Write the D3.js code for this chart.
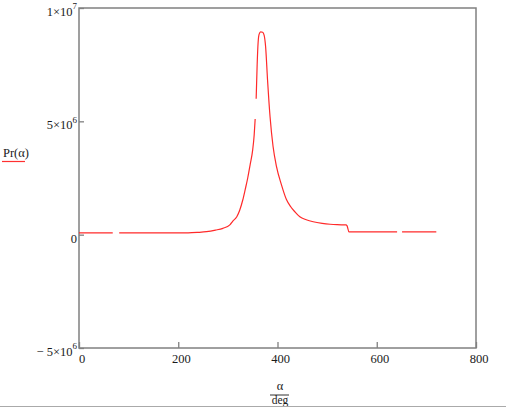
<!DOCTYPE html>
<html>
<head>
<meta charset="utf-8">
<script src="https://cdn.jsdelivr.net/npm/d3@7"></script>
<style>
  html, body { margin: 0; padding: 0; background: #fff; }
  svg { display: block; }
  text { font-family: "Liberation Serif", "DejaVu Serif", serif; fill: #1a1a1a; }
</style>
</head>
<body>
<svg id="chart" width="506" height="408"></svg>
<script>
// ---- data ----
const alphaDeg = [0, 68, 81, 220, 240, 257, 275, 290, 304, 310, 318, 324, 330, 335, 340, 345, 350, 353, 355, 357, 359, 361, 363, 366, 370, 373, 376, 380, 385, 391, 398, 408, 418, 427, 435, 445, 458, 472, 490, 506, 520, 538, 540, 544, 641, 651, 720];
const prMillions = [0.08, 0.08, 0.08, 0.08, 0.1, 0.13, 0.2, 0.28, 0.43, 0.6, 0.79, 1.09, 1.53, 2.0, 2.5, 3.1, 3.74, 4.4, 5.1, 6.0, 7.5, 8.5, 8.85, 8.95, 8.93, 8.8, 8.3, 6.8, 5.2, 3.9, 3.0, 2.2, 1.55, 1.22, 1.01, 0.79, 0.66, 0.57, 0.5, 0.46, 0.44, 0.43, 0.4, 0.12, 0.12, 0.12, 0.12];
// breaks in the drawn trace (between these consecutive alpha points)
const traceGaps = [[68, 81], [355, 357], [641, 651]];
const xTicks = [0, 200, 400, 600, 800];
const yTicks = [-5e6, 0, 5e6, 1e7];
const yTickLabels = [["\u2212 5\u00d710", "6"], ["0", ""], ["5\u00d710", "6"], ["1\u00d710", "7"]];
const xDomain = [0, 800];
const yDomain = [-5e6, 1e7];

const svg = d3.select("#chart");
const x = d3.scaleLinear().domain(xDomain).range([79, 476]);
const y = d3.scaleLinear().domain(yDomain).range([348, 8]);

const frameColor = "#808080";

// x axis (ticks pointing up into the plot)
const gx = svg.append("g").attr("transform", `translate(0,${y(yDomain[0])})`)
  .call(d3.axisBottom(x).tickValues(xTicks).tickSize(-6).tickPadding(6).tickFormat(d3.format("d")));
gx.select(".domain").remove();
gx.selectAll(".tick line").attr("stroke", frameColor).attr("stroke-width", 1.3);
gx.selectAll(".tick text").attr("font-size", 12.5).attr("dx", 2.5)
  .attr("font-family", "Liberation Serif").attr("fill", "#1a1a1a");

// y axis (ticks pointing right into the plot)
const gy = svg.append("g").attr("transform", `translate(${x(xDomain[0])},0)`)
  .call(d3.axisLeft(y).tickValues(yTicks).tickSize(-5).tickPadding(2));
gy.select(".domain").remove();
gy.selectAll(".tick line").attr("stroke", frameColor).attr("stroke-width", 1.3);
gy.selectAll(".tick text").each(function(d, i) {
  const t = d3.select(this);
  t.text(null).attr("font-size", 12.5).attr("dy", "0.6em")
   .attr("font-family", "Liberation Serif").attr("fill", "#1a1a1a");
  const lab = yTickLabels[yTicks.indexOf(d)];
  t.append("tspan").text(lab[0]);
  if (lab[1]) t.append("tspan").attr("font-size", 9).attr("dy", "-0.75em").text(lab[1]);
});

// frame
svg.append("rect")
  .attr("x", x(xDomain[0])).attr("y", y(yDomain[1]))
  .attr("width", x(xDomain[1]) - x(xDomain[0]))
  .attr("height", y(yDomain[0]) - y(yDomain[1]))
  .attr("fill", "none").attr("stroke", frameColor).attr("stroke-width", 1.5);

// trace, split at gaps
const pts = alphaDeg.map((a, i) => ({a, v: prMillions[i] * 1e6}));
const segments = [];
let cur = [];
pts.forEach((p, i) => {
  if (i > 0) {
    const prev = pts[i - 1];
    if (traceGaps.some(g => g[0] === prev.a && g[1] === p.a)) { segments.push(cur); cur = []; }
  }
  cur.push(p);
});
segments.push(cur);
const line = d3.line().x(d => x(d.a)).y(d => y(d.v)).curve(d3.curveMonotoneX);
svg.append("g").selectAll("path").data(segments).join("path")
  .attr("d", line).attr("fill", "none").attr("stroke", "#ff2a2a").attr("stroke-width", 1.2)
  .attr("stroke-linejoin", "round");

// y-axis title with legend underline
svg.append("text").attr("x", 3).attr("y", 157).attr("font-size", 12.5).text("Pr(\u03b1)");
svg.append("line").attr("x1", 2).attr("x2", 25).attr("y1", 161.5).attr("y2", 161.5)
  .attr("stroke", "#ff3030").attr("stroke-width", 1.2);

// x-axis title as a fraction alpha / deg
const fx = 280;
svg.append("text").attr("x", fx).attr("y", 390).attr("text-anchor", "middle").attr("font-size", 12.5).text("\u03b1");
svg.append("line").attr("x1", 270).attr("x2", 289).attr("y1", 395).attr("y2", 395)
  .attr("stroke", "#333").attr("stroke-width", 1);
svg.append("text").attr("x", fx).attr("y", 404).attr("text-anchor", "middle").attr("font-size", 11.5).text("deg");

// bottom window border line
svg.append("line").attr("x1", 0).attr("x2", 506).attr("y1", 406.5).attr("y2", 406.5)
  .attr("stroke", "#aaaaaa").attr("stroke-width", 1);
</script>
</body>
</html>
